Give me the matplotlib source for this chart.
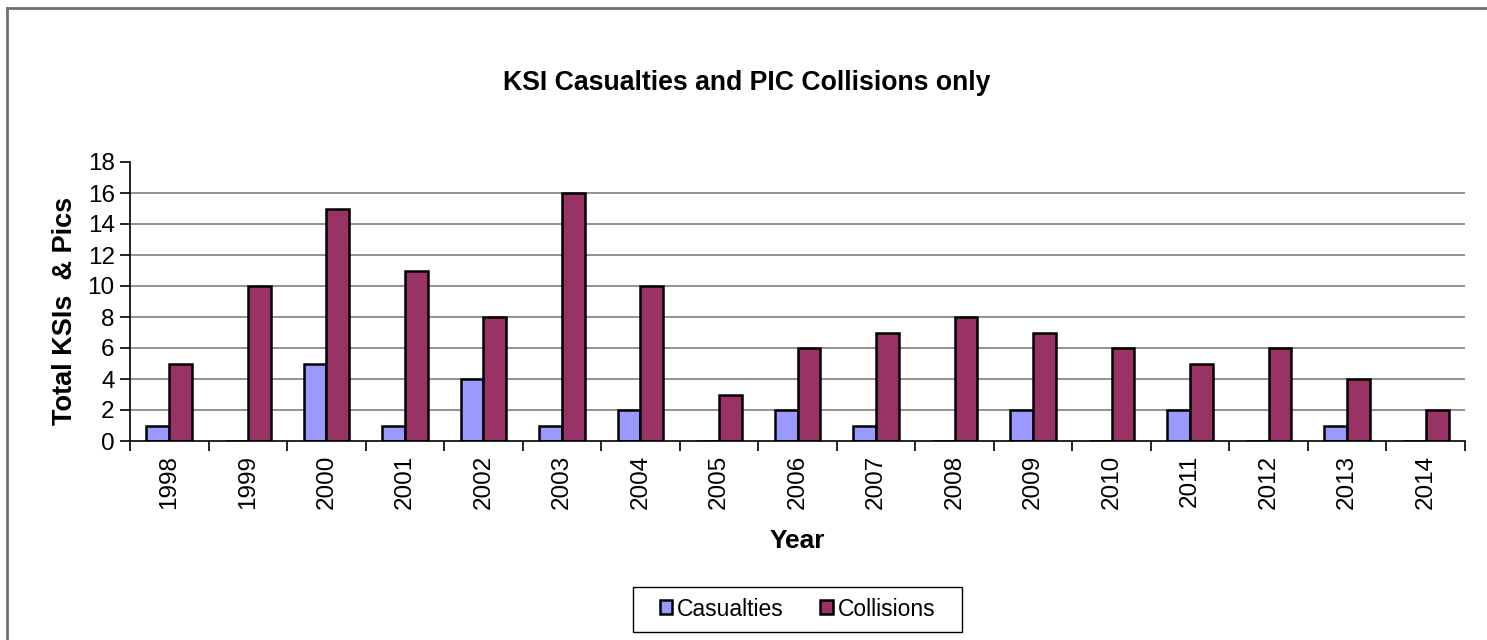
import matplotlib
matplotlib.use("Agg")
import matplotlib.pyplot as plt
import numpy as np
from matplotlib.lines import Line2D
from matplotlib.patches import Rectangle

years = ["1998", "1999", "2000", "2001", "2002", "2003", "2004", "2005", "2006",
         "2007", "2008", "2009", "2010", "2011", "2012", "2013", "2014"]
casualties = [1, 0, 5, 1, 4, 1, 2, 0, 2, 1, 0, 2, 0, 2, 0, 1, 0]
collisions = [5, 10, 15, 11, 8, 16, 10, 3, 6, 7, 8, 7, 6, 5, 6, 4, 2]
yticks = [0, 2, 4, 6, 8, 10, 12, 14, 16, 18]

plt.rcParams['font.family'] = ['Liberation Sans', 'DejaVu Sans']

W, H = 1487, 640
fig = plt.figure(figsize=(W/100, H/100), dpi=100)
ax = fig.add_axes([130/W, 1-441/H, (1465-130)/W, (441-162)/H])

x = np.arange(len(years))
w = 0.29
ax.bar(x - w/2, casualties, w, color="#9999FF", edgecolor="black", linewidth=1.8,
       label="Casualties", zorder=3)
ax.bar(x + w/2, collisions, w, color="#993366", edgecolor="black", linewidth=1.8,
       label="Collisions", zorder=3)

ax.set_xlim(-0.5, len(years) - 0.5)
ax.set_ylim(0, 18)
ax.set_yticks(yticks)
ax.set_yticklabels([str(v) for v in yticks], fontsize=17.5)
for v in yticks[1:-1]:
    ax.axhline(v, color="#808080", linewidth=1.2, zorder=1)

ax.set_xticks(x)
ax.set_xticklabels(years, rotation=90, fontsize=17.5)
ax.tick_params(axis='x', which='major', length=0, pad=10)
ax.set_xticks(np.arange(len(years) + 1) - 0.5, minor=True)
ax.tick_params(axis='x', which='minor', length=7, width=1.2, direction='out')
ax.tick_params(axis='y', length=7, width=1.2, direction='out', pad=4)

for s in ['top', 'right']:
    ax.spines[s].set_visible(False)
for s in ['left', 'bottom']:
    ax.spines[s].set_linewidth(1.2)
    ax.spines[s].set_zorder(4)

ax.set_xlabel("Year", fontsize=19, fontweight='bold', labelpad=14)
ax.set_ylabel("Total KSIs  & Pics", fontsize=19.5, fontweight='bold')
ax.yaxis.set_label_coords((78 - 130) / (1465 - 130), 0.465)

fig.text((503 + 990) / 2 / W, 1 - 83/H, "KSI Casualties and PIC Collisions only",
         ha='center', va='center', fontsize=19.2, fontweight='bold')

leg = fig.legend(loc='center', bbox_to_anchor=((633 + 962) / 2 / W, 1 - 609/H),
                 ncol=2, fontsize=16.5, frameon=False,
                 handlelength=0.55, handleheight=0.55, handletextpad=0.2, columnspacing=1.6,
                 borderpad=0.0)
fig.add_artist(Rectangle((633/W, 1 - 632/H), (962-633)/W, (632-587)/H,
                         transform=fig.transFigure, facecolor='none',
                         edgecolor='black', linewidth=1.0))

# outer chart border (left and top visible)
fig.add_artist(Line2D([7/W, 7/W], [-0.1, 1 - 8/H], transform=fig.transFigure,
                      color="#707070", linewidth=2))
fig.add_artist(Line2D([7/W, 1.1], [1 - 8/H, 1 - 8/H], transform=fig.transFigure,
                      color="#707070", linewidth=2))

fig.savefig("out.png", dpi=100, facecolor="white")
